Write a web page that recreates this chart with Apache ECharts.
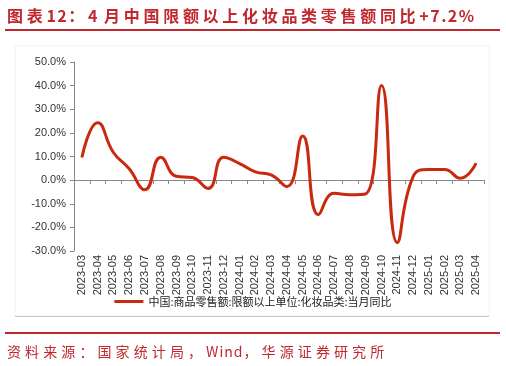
<!DOCTYPE html>
<html>
<head>
<meta charset="utf-8">
<script src="https://cdn.jsdelivr.net/npm/echarts@6/dist/echarts.min.js"></script>
<style>
html,body{margin:0;padding:0;background:#fff;}
#wrap{position:relative;width:506px;height:366px;}
#chart{position:absolute;left:0;top:0;width:506px;height:366px;}
#title{position:absolute;left:7px;top:5px;font-family:"Noto Sans CJK SC";font-weight:bold;font-size:16px;letter-spacing:3.7px;color:#C0282E;white-space:nowrap;line-height:20px;}
#title .a{letter-spacing:1.5px;}
#src{position:absolute;left:7px;top:341px;font-family:"Noto Sans CJK SC";font-size:14px;letter-spacing:4.1px;color:#C0282E;white-space:nowrap;line-height:20px;}
#src .a{letter-spacing:1px;}
</style>
</head>
<body>
<div id="wrap">
<div id="chart"></div>
<div id="title">图表<span class="a">12</span>：<span class="a">4 </span>月中国限额以上化妆品类零售额同比<span class="a">+7.2%</span></div>
<div id="src">资料来源：国家统计局，<span class="a">Wind</span>，华源证券研究所</div>
</div>
<script>
const categories = ['2023-03','2023-04','2023-05','2023-06','2023-07','2023-08','2023-09','2023-10','2023-11','2023-12',
  '2024-01','2024-02','2024-03','2024-04','2024-05','2024-06','2024-07','2024-08','2024-09','2024-10','2024-11','2024-12',
  '2025-01','2025-02','2025-03','2025-04'];
const yoyValues = [9.6, 24.3, 11.7, 4.8, -4.1, 9.7, 1.6, 1.1, -3.5, 9.7,
  7.0, 3.5, 2.2, -2.7, 18.7, -14.6, -5.6, -6.2, -5.8, 40.1, -26.4, 1.4,
  4.5, 4.5, 0.8, 7.2];
const seriesName = '中国:商品零售额:限额以上单位:化妆品类:当月同比';
const yTicks = {min: -30, max: 50, interval: 10};

const chart = echarts.init(document.getElementById('chart'), null, {renderer: 'canvas'});
chart.setOption({
  animation: false,
  backgroundColor: '#fff',
  textStyle: {fontFamily: 'Liberation Sans, Arial, sans-serif'},
  graphic: [
    {type: 'line', shape: {x1: 5, y1: 30, x2: 500, y2: 30}, style: {stroke: '#C0282E', lineWidth: 2}},
    {type: 'rect', shape: {x: 15, y: 46, width: 474, height: 270}, style: {fill: 'none', stroke: '#f2f2f2', lineWidth: 1}},
    {type: 'line', shape: {x1: 15, y1: 316.5, x2: 489, y2: 316.5}, style: {stroke: '#c4c4c4', lineWidth: 1}},
    {type: 'line', shape: {x1: 5, y1: 333, x2: 500, y2: 333}, style: {stroke: '#C0282E', lineWidth: 2}}
  ],
  grid: {left: 74, right: 22, top: 62, bottom: 115, containLabel: false},
  legend: {
    data: [seriesName],
    top: 291, left: 'center',
    icon: 'rect', itemWidth: 29, itemHeight: 3,
    textStyle: {fontSize: 11, color: '#1a1a1a', fontFamily: 'Noto Sans CJK SC'}
  },
  xAxis: {
    type: 'category',
    data: categories,
    boundaryGap: true,
    axisLine: {onZero: true, lineStyle: {color: '#888', width: 1}},
    axisTick: {show: true, length: 4, lineStyle: {color: '#888'}},
    axisLabel: {interval: 0, rotate: 90, fontSize: 11, color: '#333', margin: 4}
  },
  yAxis: {
    type: 'value',
    min: yTicks.min, max: yTicks.max, interval: yTicks.interval,
    axisLine: {show: true, lineStyle: {color: '#888', width: 1}},
    axisTick: {show: true, length: 4, lineStyle: {color: '#888'}},
    splitLine: {show: false},
    axisLabel: {fontSize: 11, color: '#333', margin: 8, formatter: v => v.toFixed(1) + '%'}
  },
  series: [{
    name: seriesName,
    type: 'line',
    data: yoyValues,
    smooth: 0.5,
    showSymbol: false,
    symbol: 'none',
    lineStyle: {color: '#C8290F', width: 3},
    itemStyle: {color: '#C8290F'}
  }]
});
</script>
</body>
</html>
